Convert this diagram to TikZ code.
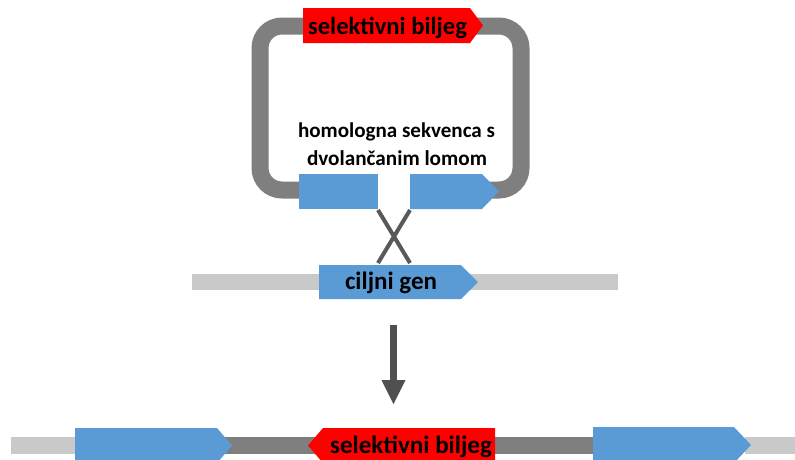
\documentclass[tikz,border=0pt]{standalone}
\usepackage{fontspec}
\setmainfont{Carlito}
\definecolor{bluebox}{HTML}{5B9BD5}
\definecolor{redbox}{HTML}{FF0000}
\definecolor{loopgray}{HTML}{7F7F7F}
\definecolor{lightline}{HTML}{C9C9C9}
\definecolor{crossgray}{HTML}{595959}
\definecolor{arrowgray}{HTML}{505050}
\newcommand{\fitw}[2]{\resizebox{#1pt}{!}{\fontsize{24}{28}\selectfont\bfseries #2}}
\begin{document}
\begin{tikzpicture}[x=1pt,y=-1pt,
  lbl/.style={text=black, inner sep=0pt, anchor=base},
  bluefeat/.style={fill=bluebox, draw=none},
  redfeat/.style={fill=redbox, draw=none},
  crossline/.style={draw=crossgray, line width=4},
  thinstrand/.style={draw=lightline, line width=17},
  thickstrand/.style={draw=loopgray, line width=17}]
\clip (0,0) rectangle (795,459);
\fill[white] (0,0) rectangle (795,459);
% plasmid loop (open between the homology arms)
\draw[thickstrand, rounded corners=22] (340,190) -- (260,190) -- (260,26) -- (521,26) -- (521,190) -- (460,190);
% top selection marker
\fill[redfeat] (303,8) -- (470,8) -- (483,25.5) -- (470,43) -- (303,43) -- cycle;
\node[lbl] (sel1) at (387.5,34.7) {\fitw{159}{selektivni biljeg}};
% homology arms
\fill[bluefeat] (299,174) rectangle (378,209);
\fill[bluefeat] (410,174) -- (482,174) -- (499,191.5) -- (482,209) -- (410,209) -- cycle;
\node[lbl] (hom1) at (396.5,137) {\fitw{197}{homologna sekvenca s}};
\node[lbl] (hom2) at (397,165) {\fitw{180}{dvolančanim lomom}};
% crossover
\coordinate (a1) at (378,210);
\coordinate (a2) at (410,210);
\coordinate (b1) at (378,263);
\coordinate (b2) at (410,263);
\draw[crossline] (a1) -- (b2);
\draw[crossline] (a2) -- (b1);
% chromosome with target gene
\draw[thinstrand, line width=16] (192,282) -- (618,282);
\fill[bluefeat] (319,265) -- (461,265) -- (478,282) -- (461,299) -- (319,299) -- cycle;
\node[lbl] (gen) at (391,289.7) {\fitw{92}{ciljni gen}};
% result arrow
\coordinate (ar1) at (393,325);
\coordinate (ar2) at (393,381);
\draw[draw=arrowgray, line width=7] (ar1) -- (ar2);
\fill[arrowgray] (381.5,380) -- (405.5,380) -- (393.5,404) -- cycle;
% result
\draw[thinstrand] (11,445.5) -- (80,445.5);
\draw[thinstrand] (745,445.5) -- (800,445.5);
\draw[thickstrand] (210,445.5) -- (600,445.5);
\fill[bluefeat] (75,428) -- (217,428) -- (232,445.5) -- (217,463) -- (75,463) -- cycle;
\fill[redfeat] (308,445.5) -- (323,428) -- (495,428) -- (495,463) -- (323,463) -- cycle;
\node[lbl] (sel2) at (411,453.7) {\fitw{162}{selektivni biljeg}};
\fill[bluefeat] (593,427) -- (734,427) -- (751,445) -- (734,463) -- (593,463) -- cycle;
\end{tikzpicture}
\end{document}
